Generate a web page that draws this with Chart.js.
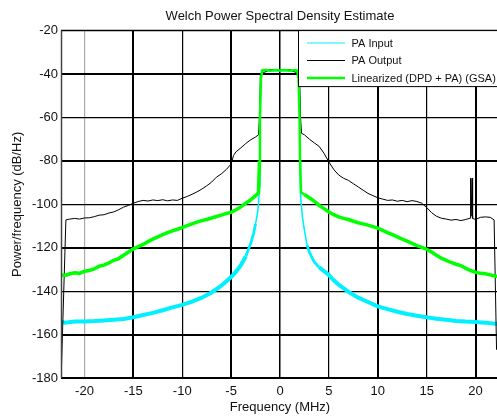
<!DOCTYPE html>
<html>
<head>
<meta charset="utf-8">
<script src="https://cdn.jsdelivr.net/npm/chart.js@4.4.1/dist/chart.umd.min.js"></script>
<style>
  html, body { margin: 0; padding: 0; overflow: hidden; background: #fff; }
  #wrap { width: 497px; height: 417px; overflow: hidden; }
</style>
</head>
<body>
<div id="wrap"><canvas id="psd" width="500" height="417"></canvas></div>
<script>
// tick values
const xTicks = [-20, -15, -10, -5, 0, 5, 10, 15, 20];
const yTicks = [-180, -160, -140, -120, -100, -80, -60, -40, -20];

// PA Input (MHz, dB/Hz)
const inputFreq = [-22.4, -22, -21, -20, -19, -18, -17, -16, -15, -14,
  -13, -12, -11, -10, -9, -8, -7, -6, -5, -4.5,
  -4, -3.5, -3, -2.7, -2.5, -2.3, -2.2, -2.1, -2.05, -2,
  -1.9, -1, 0, 1, 1.9, 2, 2.05, 2.1, 2.3, 2.5,
  2.75, 3, 3.5, 4, 4.5, 5, 5.5, 6, 7, 8,
  9, 10, 11, 12, 13, 14, 15, 16, 17, 18,
  19, 20, 21, 22, 22.4];
const inputLevel = [-154, -154.5, -154, -154, -153.8, -153.5, -153.2, -152.8, -152, -151,
  -150, -148.8, -147.5, -146.3, -144.8, -143, -140.6, -137.5, -133.5, -131,
  -128, -124, -118, -113.5, -109, -104, -100, -92, -75, -50,
  -38.5, -38.3, -38.5, -38.3, -38.5, -50, -80, -96, -106, -112,
  -118.5, -122, -126.5, -129, -130.8, -132.5, -135, -137, -140.3, -143,
  -145, -147, -148.3, -149.5, -150.5, -151.3, -152, -152.7, -153.2, -153.7,
  -154, -154.2, -154.5, -155, -155];

// PA Output
const outputFreq = [-22.35, -21.9, -21.5, -21, -20.5, -20, -19.5, -19, -18.5, -18,
  -17.5, -17, -16.5, -16, -15.5, -15, -14.5, -14, -13.5, -13,
  -12.5, -12, -11.5, -11, -10.5, -10, -9.5, -9, -8.5, -8,
  -7.5, -7, -6.5, -6, -5.5, -5, -4.75, -4.5, -4, -3.5,
  -3, -2.5, -2.2, -2.1, -2, -1, 0, 1, 2, 2.1,
  2.2, 2.5, 3, 3.5, 4, 4.5, 5, 5.5, 6, 6.5,
  7, 7.5, 8, 8.5, 9, 9.5, 10, 10.5, 11, 11.5,
  12, 12.5, 13, 13.5, 14, 14.5, 15, 15.5, 16, 16.5,
  17, 17.5, 18, 18.5, 19, 19.45, 19.5, 19.55, 19.65, 19.7,
  20, 20.5, 21, 21.5, 21.9, 22.15];
const outputLevel = [-175, -107.2, -106.8, -106.5, -106.8, -106.3, -106.2, -105.7, -105, -104.8,
  -104, -103.5, -102.5, -101.3, -100.5, -99.5, -98.7, -98.2, -98.5, -98,
  -98.3, -97.9, -98.4, -98, -98.2, -97.2, -96.4, -95.4, -94.3, -93,
  -91.5, -89.8, -87.5, -86, -84, -81.5, -77.5, -75.8, -74, -72,
  -70.3, -69, -68, -60, -40, -38, -38, -38, -40, -60,
  -67.3, -68, -70, -71.7, -73.3, -76.5, -80.5, -84, -86.5, -88,
  -89, -90.5, -92, -93.5, -95, -96, -97, -97.6, -98.2, -98,
  -98.6, -98.2, -98.8, -98.3, -98.7, -99.5, -101.5, -103.8, -105.5, -106.4,
  -106.8, -107.3, -107, -107.5, -107, -106.4, -88, -105.5, -88, -106.5,
  -107, -106, -105.8, -106, -107.2, -167];

// Linearized (DPD + PA) (GSA)
const dpdFreq = [-22.4, -22, -21.5, -21, -20.5, -20, -19.5, -19, -18.5, -18,
  -17.5, -17, -16.5, -16, -15.5, -15, -14.5, -14, -13.5, -13,
  -12.5, -12, -11.5, -11, -10.5, -10, -9.5, -9, -8.5, -8,
  -7.5, -7, -6.5, -6, -5.5, -5, -4.5, -4, -3.5, -3,
  -2.5, -2.2, -2.1, -2.05, -1.95, -1.8, -1.5, -1, -0.5, 0,
  0.5, 1, 1.5, 1.75, 1.9, 2, 2.05, 2.15, 2.5, 3,
  3.5, 4, 4.5, 5, 5.5, 6, 6.5, 7, 7.5, 8,
  8.5, 9, 9.5, 10, 10.5, 11, 11.5, 12, 12.5, 13,
  13.5, 14, 14.5, 15, 15.5, 16, 16.5, 17, 17.5, 18,
  18.5, 19, 19.5, 20, 20.5, 21, 21.5, 22, 22.4];
const dpdLevel = [-132.5, -132.8, -132, -131.5, -131.8, -130.8, -130.5, -129.8, -128.5, -128,
  -127, -125.8, -125, -123.5, -122, -120.5, -119.5, -118.5, -117.2, -116,
  -115, -114, -113, -112.2, -111.5, -110.7, -109.8, -109, -108.2, -107.5,
  -107, -106.3, -105.6, -105, -104.2, -103.7, -102.5, -101.2, -99.5, -98,
  -96, -94.8, -80, -60, -42, -38.3, -38, -38.5, -38.2, -38.4,
  -38.1, -38.5, -38.2, -38.4, -42, -60, -80, -94.5, -95.5, -97,
  -98.5, -100.5, -102, -103.5, -104.8, -105.8, -106.5, -107, -107.8, -108.5,
  -109, -109.6, -110.3, -111, -112, -113, -114, -115, -116, -117,
  -118, -119, -119.8, -120.7, -122, -123.5, -124.8, -125.8, -126.8, -127.6,
  -128.2, -129.5, -130.5, -131.3, -131.8, -132, -132.5, -133, -133.3];

const FONT = '"Liberation Sans", Arial, sans-serif';
Chart.defaults.font.family = FONT;
Chart.defaults.color = '#222';

function points(fx, fy) {
  return fx.map((x, i) => ({ x: x, y: fy[i] }));
}

// grid widths look uneven in the original (resampled image)
function xGridWidth(ctx) {
  const v = ctx.tick.value;
  if (v === -15 || v === -5 || v === 10 || v === 20) return 2;
  if (v === 0) return 1.5;
  return 1.2;
}
function yGridWidth(ctx) {
  const v = ctx.tick.value;
  if (v === -180 || v === -20) return 0;
  if (v === -160 || v === -120 || v === -80 || v === -40) return 2;
  return 1.2;
}

// frame round the axes
const framePlugin = {
  id: 'frame',
  afterDatasetsDraw(chart) {
    const { ctx, chartArea: a } = chart;
    ctx.save();
    ctx.strokeStyle = '#000';
    ctx.lineWidth = 1.5;
    ctx.beginPath();
    ctx.moveTo(a.left, a.top); ctx.lineTo(a.right, a.top);
    ctx.stroke();
    ctx.lineWidth = 2;
    ctx.beginPath();
    ctx.moveTo(a.left, a.bottom); ctx.lineTo(a.right, a.bottom);
    ctx.stroke();
    ctx.strokeStyle = '#444';
    ctx.lineWidth = 1.5;
    ctx.beginPath();
    ctx.moveTo(a.left + 0.5, a.top); ctx.lineTo(a.left + 0.5, a.bottom);
    ctx.stroke();
    ctx.restore();
  }
};

// matlab style legend box, top right
const legendPlugin = {
  id: 'boxLegend',
  afterDraw(chart) {
    const { ctx, chartArea: a } = chart;
    const x0 = 298.5, y0 = a.top, w = 210, h = 56;
    ctx.save();
    ctx.fillStyle = '#fff';
    ctx.fillRect(x0, y0, w, h);
    ctx.strokeStyle = '#000';
    ctx.lineWidth = 1;
    ctx.strokeRect(x0, y0, w, h);
    const rows = [43, 60.5, 78];
    const sets = [0, 1, 2].map(i => chart.data.datasets[i]);
    ctx.font = '11px ' + FONT;
    ctx.textBaseline = 'middle';
    sets.forEach((ds, i) => {
      ctx.strokeStyle = ds.borderColor;
      ctx.lineWidth = ds.legendWidth;
      ctx.beginPath();
      ctx.moveTo(307, rows[i]); ctx.lineTo(345, rows[i]);
      ctx.stroke();
      ctx.fillStyle = '#111';
      ctx.fillText(ds.label, 351.5, rows[i] + 0.5);
    });
    ctx.restore();
  }
};

new Chart(document.getElementById('psd'), {
  type: 'line',
  data: {
    datasets: [
      {
        label: 'PA Input',
        data: points(inputFreq, inputLevel),
        borderColor: '#00f0ff',
        borderWidth: 4,
        legendWidth: 1,
        order: 3,
        segment: { borderWidth: c => Math.abs(c.p0.parsed.x) < 2.6 ? 1.6 : (Math.abs(c.p0.parsed.x) < 4 ? 2.8 : 4) }
      },
      {
        label: 'PA Output',
        data: points(outputFreq, outputLevel),
        borderColor: '#000',
        borderWidth: 1,
        legendWidth: 1,
        order: 2
      },
      {
        label: 'Linearized (DPD + PA) (GSA)',
        data: points(dpdFreq, dpdLevel),
        borderColor: '#00ff00',
        borderWidth: 3.5,
        legendWidth: 2.5,
        order: 1,
        segment: { borderWidth: c => Math.abs(c.p0.parsed.x) < 2.2 ? 2.5 : 3.5 }
      }
    ]
  },
  options: {
    responsive: false,
    animation: false,
    devicePixelRatio: 1,
    layout: { padding: { left: 0, right: 1, top: 0, bottom: 0 } },
    elements: { point: { radius: 0 }, line: { tension: 0 } },
    plugins: {
      legend: { display: false },
      tooltip: { enabled: false },
      title: {
        display: true,
        text: 'Welch Power Spectral Density Estimate',
        fullSize: false,
        color: '#111',
        font: { size: 13, weight: 'normal' },
        padding: { top: 9, bottom: 6 }
      }
    },
    scales: {
      x: {
        type: 'linear',
        min: -22.4,
        max: 22.4,
        afterBuildTicks: s => { s.ticks = xTicks.map(v => ({ value: v })); },
        afterFit: s => { s.height = 39; },
        border: { display: false },
        grid: { color: ctx => ctx.tick.value === -20 ? '#aaa' : '#000', lineWidth: xGridWidth, drawTicks: false },
        ticks: { font: { size: 13 }, padding: 6, maxRotation: 0, color: '#111' },
        title: { display: true, text: 'Frequency (MHz)', font: { size: 13 }, color: '#111', padding: { top: 0, bottom: 2 } }
      },
      y: {
        type: 'linear',
        min: -180,
        max: -20,
        afterBuildTicks: s => { s.ticks = yTicks.map(v => ({ value: v })); },
        afterFit: s => { s.width = 61; },
        border: { display: false },
        grid: { color: '#000', lineWidth: yGridWidth, drawTicks: false },
        ticks: { font: { size: 13 }, padding: 3, color: '#111' },
        title: { display: true, text: 'Power/frequency (dB/Hz)', font: { size: 13 }, color: '#111', padding: { top: 9.5, bottom: 0 } }
      }
    }
  },
  plugins: [framePlugin, legendPlugin]
});
</script>
</body>
</html>
